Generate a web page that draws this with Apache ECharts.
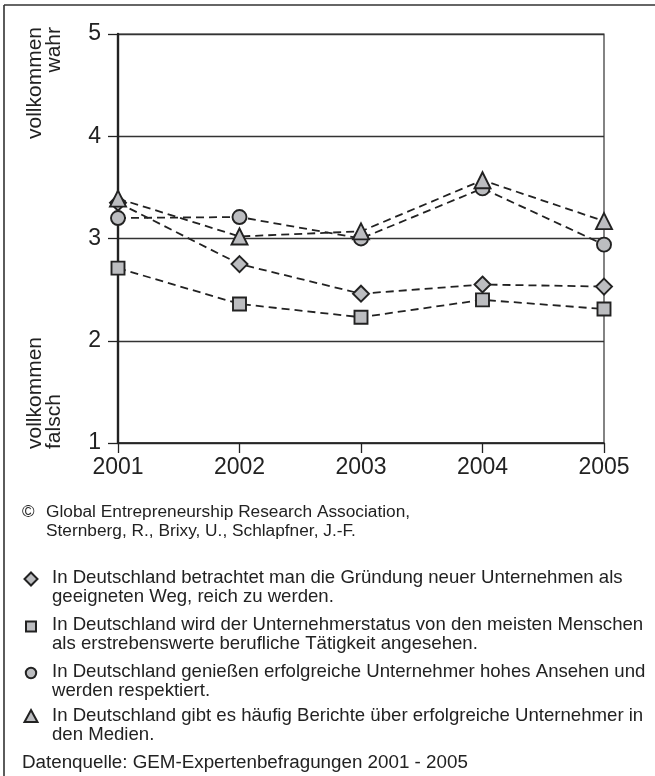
<!DOCTYPE html>
<html>
<head>
<meta charset="utf-8">
<script src="https://cdn.jsdelivr.net/npm/echarts@6/dist/echarts.min.js"></script>
<style>
html,body{margin:0;padding:0;background:#fff;}
#chart{width:655px;height:776px;}
</style>
</head>
<body>
<div id="chart"></div>
<script>
var years = ['2001', '2002', '2003', '2004', '2005'];
var yTicks = [1, 2, 3, 4, 5];
var seriesNames = [
  'In Deutschland betrachtet man die Gründung neuer Unternehmen als\ngeeigneten Weg, reich zu werden.',
  'In Deutschland wird der Unternehmerstatus von den meisten Menschen\nals erstrebenswerte berufliche Tätigkeit angesehen.',
  'In Deutschland genießen erfolgreiche Unternehmer hohes Ansehen und\nwerden respektiert.',
  'In Deutschland gibt es häufig Berichte über erfolgreiche Unternehmer in\nden Medien.'
];
var seriesSymbols = ['diamond', 'rect', 'circle', 'triangle'];
var reichWerden = [3.35, 2.75, 2.46, 2.55, 2.53];
var statusBeruf = [2.71, 2.36, 2.23, 2.40, 2.31];
var ansehen = [3.20, 3.21, 3.00, 3.49, 2.94];
var medien = [3.39, 3.02, 3.07, 3.57, 3.17];
var seriesValues = [reichWerden, statusBeruf, ansehen, medien];
var captionLines = ['©', 'Global Entrepreneurship Research Association,', 'Sternberg, R., Brixy, U., Schlapfner, J.-F.'];
var sourceText = 'Datenquelle: GEM-Expertenbefragungen 2001 - 2005';
var axisTop = 'vollkommen\nwahr';
var axisBottom = 'vollkommen\nfalsch';

var FONT = '"Liberation Sans", Arial, Helvetica, sans-serif';
var dark = '#222';
var grey = '#bcbdc0';
var symSizes = {diamond: 16, rect: 13, circle: 14, triangle: 16};

var chart = echarts.init(document.getElementById('chart'), null, {renderer: 'canvas'});

var series = seriesValues.map(function (vals, i) {
  return {
    name: seriesNames[i],
    type: 'line',
    data: vals,
    symbol: seriesSymbols[i],
    symbolSize: symSizes[seriesSymbols[i]],
    showAllSymbol: true,
    lineStyle: {color: dark, width: 1.8, type: [8, 5]},
    itemStyle: {color: grey, borderColor: dark, borderWidth: 1.9},
    z: 3 + i,
    animation: false
  };
});

var graphics = [];
graphics.push({type: 'line', shape: {x1: 4, y1: 5, x2: 655, y2: 5}, style: {stroke: '#333', lineWidth: 1.6}});
graphics.push({type: 'line', shape: {x1: 4, y1: 5, x2: 4, y2: 776}, style: {stroke: '#333', lineWidth: 1.6}});
graphics.push({type: 'text', x: 26, y: 27, rotation: Math.PI / 2,
  style: {text: axisTop, font: '21px ' + FONT, fill: dark, align: 'right', verticalAlign: 'top', lineHeight: 19}});
graphics.push({type: 'text', x: 26, y: 449, rotation: Math.PI / 2,
  style: {text: axisBottom, font: '21px ' + FONT, fill: dark, align: 'left', verticalAlign: 'top', lineHeight: 19}});
graphics.push({type: 'text', x: 22, y: 512, style: {text: captionLines[0], font: '17px ' + FONT, fill: dark, verticalAlign: 'middle'}});
graphics.push({type: 'text', x: 46, y: 512, style: {text: captionLines[1], font: '17.3px ' + FONT, fill: dark, verticalAlign: 'middle'}});
graphics.push({type: 'text', x: 46, y: 531, style: {text: captionLines[2], font: '17.3px ' + FONT, fill: dark, verticalAlign: 'middle'}});
var legendY = [579, 626, 673, 717];
var legendShapes = [
  {type: 'polygon', shape: {points: [[31, 572.5], [37.5, 579], [31, 585.5], [24.5, 579]]}},
  {type: 'rect', shape: {x: 26, y: 621.5, width: 10, height: 10}},
  {type: 'circle', shape: {cx: 31, cy: 673, r: 5.2}},
  {type: 'polygon', shape: {points: [[31, 710], [37.5, 722], [24.5, 722]]}}
];
legendShapes.forEach(function (s) {
  s.style = {fill: grey, stroke: dark, lineWidth: 2};
  graphics.push(s);
});
seriesNames.forEach(function (name, i) {
  graphics.push({type: 'text', x: 52, y: legendY[i] - 10,
    style: {text: name, font: '18.6px ' + FONT, fill: dark, verticalAlign: 'top', lineHeight: 18.5}});
});
graphics.push({type: 'text', x: 22, y: 763, style: {text: sourceText, font: '18.8px ' + FONT, fill: dark, verticalAlign: 'middle'}});

chart.setOption({
  animation: false,
  backgroundColor: '#fff',
  grid: {left: 118, right: 51, top: 34, bottom: 333, show: true, borderColor: '#333', borderWidth: 1.2, backgroundColor: 'transparent'},
  xAxis: {
    type: 'category',
    data: years,
    boundaryGap: false,
    axisLine: {lineStyle: {color: dark, width: 1.5}},
    axisTick: {show: true, length: 10, inside: false, lineStyle: {color: dark, width: 1.3}},
    axisLabel: {fontFamily: FONT, fontSize: 23, color: dark, margin: 13},
    splitLine: {show: false}
  },
  yAxis: {
    type: 'value',
    min: yTicks[0],
    max: yTicks[yTicks.length - 1],
    interval: 1,
    axisLine: {show: true, lineStyle: {color: dark, width: 2.4}},
    axisTick: {show: true, length: 10, lineStyle: {color: dark, width: 1.3}},
    axisLabel: {fontFamily: FONT, fontSize: 23, color: dark, margin: 17},
    splitLine: {show: true, lineStyle: {color: '#333', width: 1.3}}
  },
  series: series,
  graphic: graphics
});
</script>
</body>
</html>
